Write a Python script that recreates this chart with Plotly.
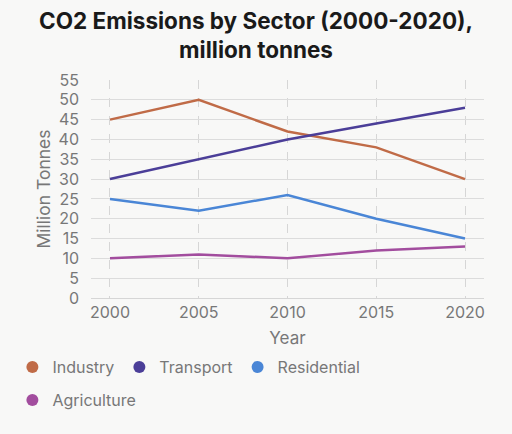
import plotly.graph_objects as go

years = [2000, 2005, 2010, 2015, 2020]
industry = [45, 50, 42, 38, 30]
transport = [30, 35, 40, 44, 48]
residential = [25, 22, 26, 20, 15]
agriculture = [10, 11, 10, 12, 13]
series_names = ["Industry", "Transport", "Residential", "Agriculture"]
colors = ["#c06b47", "#4b3e98", "#4a86d6", "#a24d9e"]
legend_rows = ["legend", "legend", "legend", "legend2"]
y_ticks = list(range(0, 60, 5))

fig = go.Figure()
for name, vals, c in zip(series_names, [industry, transport, residential, agriculture], colors):
    fig.add_trace(go.Scatter(x=years, y=vals, mode="lines", name=name,
                             line=dict(color=c, width=2.5), showlegend=False))
for name, c, lg in zip(series_names, colors, legend_rows):
    fig.add_trace(go.Scatter(x=[None], y=[None], mode="markers", name=name,
                             marker=dict(color=c, size=12), legend=lg))

font_fam = "Inter, Roboto, sans-serif"
leg_common = dict(orientation="h", xanchor="left", yanchor="middle",
                  font=dict(size=16, color="#777777", family=font_fam),
                  itemwidth=30, bgcolor="rgba(0,0,0,0)")
fig.update_layout(
    width=512, height=434,
    paper_bgcolor="#f8f8f7", plot_bgcolor="#f8f8f7",
    margin=dict(l=91, r=28, t=80, b=136),
    font=dict(family=font_fam, color="#777777", size=16),
    xaxis=dict(range=[1998.93, 2021.07], tickvals=years, ticktext=[str(y) for y in years],
               showgrid=True, gridcolor="#d6d6d6", griddash="dash", gridwidth=1,
               showline=True, linecolor="#d6d6d6", zeroline=False,
               title=dict(text="Year", standoff=10, font=dict(size=17)),
               tickfont=dict(size=16, color="#777777")),
    yaxis=dict(range=[0, 55], tickvals=y_ticks, showgrid=True, gridcolor="#dcdcdc",
               zeroline=False, title=dict(text="Million Tonnes", standoff=3, font=dict(size=17.5)),
               ticklabelstandoff=11,
               tickfont=dict(size=16, color="#777777")),
    legend=dict(x=-0.2, y=-0.3165, **leg_common),
    legend2=dict(x=-0.2, y=-0.468, **leg_common),
)
fig.add_annotation(text="<b>CO2 Emissions by Sector (2000-2020),<br>million tonnes</b>",
                   xref="paper", yref="paper", x=(256 - 91) / 393, y=1 + (80 - 35) / 218,
                   xanchor="center", yanchor="middle", showarrow=False,
                   font=dict(size=22.5, color="#1a1a1a", family=font_fam))
fig.write_html("out.html")
